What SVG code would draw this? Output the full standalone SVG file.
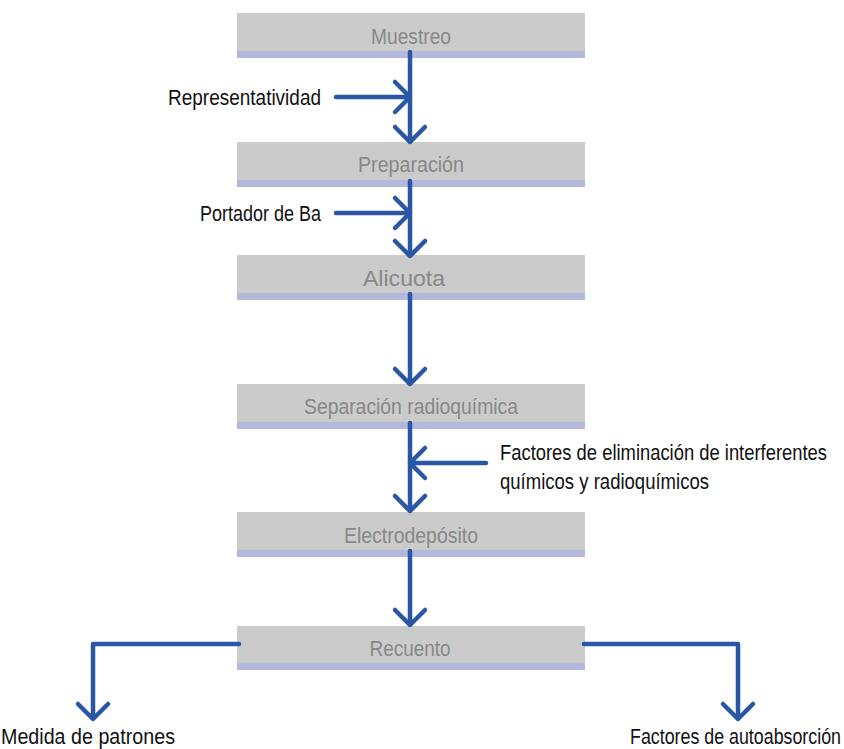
<svg xmlns="http://www.w3.org/2000/svg" width="844" height="749" viewBox="0 0 844 749">
<style>
.box{fill:#cbcbcb}
.strip{fill:#b5b8dc}
.lbl{font-family:"Liberation Sans Narrow","Liberation Sans",Arial,sans-serif;font-size:22px;fill:#888888;text-anchor:middle}
.txt{font-family:"Liberation Sans Narrow","Liberation Sans",Arial,sans-serif;font-size:22px;fill:#111111}
.ln{fill:none;stroke:#2a56a6;stroke-width:4.5;stroke-linecap:round;stroke-linejoin:round}
</style>
<rect width="844" height="749" fill="#ffffff"/>
<g id="muestreo"><rect class="box" x="237" y="13" width="348" height="38"/><rect class="strip" x="237" y="51" width="348" height="7"/><text class="lbl" x="411" y="44" textLength="80" lengthAdjust="spacingAndGlyphs">Muestreo</text></g>
<g id="preparacion"><rect class="box" x="237" y="142" width="348" height="38"/><rect class="strip" x="237" y="180" width="348" height="7"/><text class="lbl" x="411" y="172" textLength="106" lengthAdjust="spacingAndGlyphs">Preparación</text></g>
<g id="alicuota"><rect class="box" x="237" y="255" width="348" height="38"/><rect class="strip" x="237" y="293" width="348" height="7"/><text class="lbl" x="404" y="286" textLength="82" lengthAdjust="spacingAndGlyphs">Alicuota</text></g>
<g id="separacion"><rect class="box" x="237" y="384" width="348" height="38"/><rect class="strip" x="237" y="422" width="348" height="7"/><text class="lbl" x="411" y="414" textLength="214" lengthAdjust="spacingAndGlyphs">Separación radioquímica</text></g>
<g id="electrodeposito"><rect class="box" x="237" y="512" width="348" height="38"/><rect class="strip" x="237" y="550" width="348" height="7"/><text class="lbl" x="411" y="543" textLength="134" lengthAdjust="spacingAndGlyphs">Electrodepósito</text></g>
<g id="recuento"><rect class="box" x="237" y="626" width="348" height="37"/><rect class="strip" x="237" y="663" width="348" height="7"/><text class="lbl" x="410" y="656" textLength="81" lengthAdjust="spacingAndGlyphs">Recuento</text></g>
<g id="representatividad"><text class="txt" x="168" y="105" textLength="153" lengthAdjust="spacingAndGlyphs">Representatividad</text></g>
<g id="portador"><text class="txt" x="200" y="221" textLength="121" lengthAdjust="spacingAndGlyphs">Portador de Ba</text></g>
<g id="factores-elim"><text class="txt" x="500" y="460" textLength="327" lengthAdjust="spacingAndGlyphs">Factores de eliminación de interferentes</text><text class="txt" x="500" y="489" textLength="209" lengthAdjust="spacingAndGlyphs">químicos y radioquímicos</text></g>
<g id="medida"><text class="txt" x="1" y="744" font-size="21" textLength="174" lengthAdjust="spacingAndGlyphs">Medida de patrones</text></g>
<g id="autoabsorcion"><text class="txt" x="630" y="744" font-size="21" textLength="211" lengthAdjust="spacingAndGlyphs">Factores de autoabsorción</text></g>
<g id="connectors">
<path class="ln" d="M410 52V142M395 127L410 142L425 127"/>
<path class="ln" d="M336 97H410M395 82L410 97L395 112"/>
<path class="ln" d="M410 181V256M395 241L410 256L425 241"/>
<path class="ln" d="M336 213H410M395 198L410 213L395 228"/>
<path class="ln" d="M410 294V384M395 369L410 384L425 369"/>
<path class="ln" d="M410 423V511M395 496L410 511L425 496"/>
<path class="ln" d="M486 463H410M425 448L410 463L425 478"/>
<path class="ln" d="M410 551V625M395 610L410 625L425 610"/>
<path class="ln" d="M239 644H93V719M78 704L93 719L108 704"/>
<path class="ln" d="M584 644H738V719M723 704L738 719L753 704"/>
</g>
</svg>
